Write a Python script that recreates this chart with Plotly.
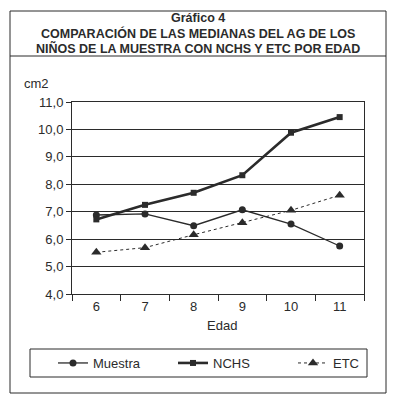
import plotly.graph_objects as go

# data
edad = ["6", "7", "8", "9", "10", "11"]
muestra = [6.88, 6.92, 6.49, 7.07, 6.55, 5.75]
nchs = [6.72, 7.25, 7.69, 8.33, 9.88, 10.45]
etc = [5.52, 5.69, 6.16, 6.6, 7.05, 7.6]

# plot area in pixels (for placing boxes and labels)
L, R, T, B = 72, 364, 102, 294


def px(x):
    return (x - L) / (R - L)


def py(y):
    return (B - y) / (B - T)


ink = "#2b2b2b"
fnt = "Liberation Sans, Arial, sans-serif"

fig = go.Figure()
fig.add_trace(go.Scatter(
    x=edad, y=muestra, name="Muestra", mode="lines+markers",
    line=dict(color=ink, width=1.3),
    marker=dict(symbol="circle", size=7, color=ink)))
fig.add_trace(go.Scatter(
    x=edad, y=nchs, name="NCHS", mode="lines+markers",
    line=dict(color=ink, width=2.6),
    marker=dict(symbol="square", size=6, color=ink)))
fig.add_trace(go.Scatter(
    x=edad, y=etc, name="ETC", mode="lines+markers",
    line=dict(color=ink, width=1, dash="dot"),
    marker=dict(symbol="triangle-up", size=9, color=ink)))

box = dict(type="rect", xref="paper", yref="paper", line=dict(color=ink, width=1))
shapes = [
    # outer frame
    dict(box, x0=px(10), x1=px(386), y0=py(393), y1=py(11)),
    # title separator
    dict(type="line", xref="paper", yref="paper",
         x0=px(10), x1=px(386), y0=py(56), y1=py(56),
         line=dict(color=ink, width=1)),
    # legend frame
    dict(box, x0=px(30), x1=px(367), y0=py(377), y1=py(349)),
]


def label(text, x, y, size=13):
    return dict(text=text, x=px(x), y=py(y), xref="paper", yref="paper",
                xanchor="center", yanchor="middle", showarrow=False,
                font=dict(size=size))


annotations = [
    label("<b>Gráfico 4</b>", 198, 18, 12.5),
    label("<b>COMPARACIÓN DE LAS MEDIANAS DEL AG DE LOS</b>", 198, 34, 12.5),
    label("<b>NIÑOS DE LA MUESTRA CON NCHS Y ETC POR EDAD</b>", 198, 49, 12.5),
    label("cm2", 36, 83),
    label("Edad", 222, 325),
]

fig.update_layout(
    width=400, height=405,
    margin=dict(l=L, r=400 - R, t=T, b=405 - B, autoexpand=False),
    paper_bgcolor="white", plot_bgcolor="white",
    font=dict(family=fnt, size=13, color=ink),
    separators=",.",
    showlegend=True,
    legend=dict(orientation="h", x=px(53), y=py(363), xanchor="left", yanchor="middle",
                borderwidth=0, entrywidth=75, bgcolor="rgba(0,0,0,0)",
                font=dict(size=13)),
    shapes=shapes,
    annotations=annotations,
)
fig.update_xaxes(type="category", tickson="boundaries", ticks="outside", ticklen=6,
                 tickcolor=ink, showline=True, linecolor=ink, mirror=True,
                 showgrid=False, range=[-0.5, 5.5])
fig.update_yaxes(range=[4, 11], dtick=1, tickformat=".1f", ticks="outside", ticklen=5,
                 tickcolor=ink, showline=True, linecolor=ink, mirror=True,
                 showgrid=True, gridcolor=ink, gridwidth=1, zeroline=False)

fig.write_html("out.html", config={"displayModeBar": False},
               post_script="document.body.style.margin='0';")
